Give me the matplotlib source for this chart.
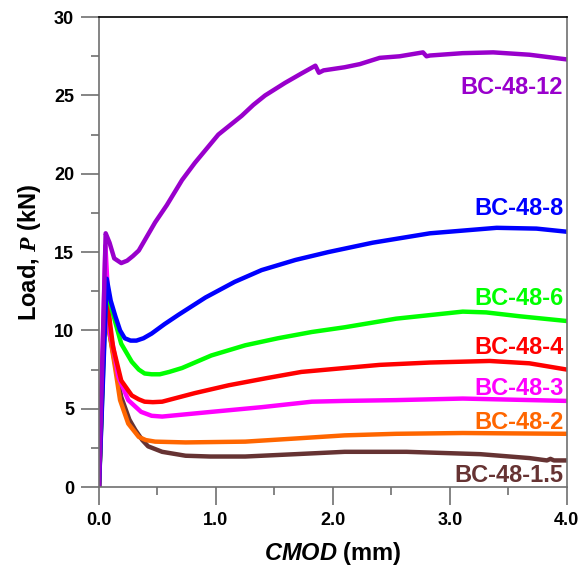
import matplotlib
matplotlib.use("Agg")
import matplotlib.pyplot as plt
from matplotlib.ticker import MultipleLocator, FormatStrFormatter

plt.rcParams["font.family"] = ["Liberation Sans", "DejaVu Sans"]
plt.rcParams["font.weight"] = "bold"
plt.rcParams["mathtext.fontset"] = "custom"
plt.rcParams["mathtext.it"] = "Liberation Sans:italic:bold"
plt.rcParams["mathtext.rm"] = "Liberation Sans:bold"
plt.rcParams["mathtext.cal"] = "Liberation Serif:italic"

# CMOD (mm) / Load (kN)
x_12 = [0.0, 0.057, 0.09, 0.13, 0.19, 0.24, 0.29, 0.34, 0.41, 0.48, 0.58, 0.71, 0.82, 0.92, 1.02,
        1.12, 1.22, 1.32, 1.42, 1.59, 1.73, 1.85, 1.88, 1.92, 2.10, 2.23, 2.40, 2.57, 2.77,
        2.80, 2.83, 3.11, 3.37, 3.68, 4.0]
p_12 = [0.0, 16.2, 15.6, 14.6, 14.3, 14.45, 14.75, 15.1, 16.0, 16.9, 18.0, 19.6, 20.7, 21.6, 22.5,
        23.1, 23.7, 24.4, 25.0, 25.8, 26.4, 26.9, 26.45, 26.6, 26.8, 27.0, 27.4, 27.5, 27.75,
        27.5, 27.55, 27.7, 27.75, 27.6, 27.3]

x_8 = [0.0, 0.066, 0.10, 0.14, 0.18, 0.22, 0.27, 0.32, 0.38, 0.45, 0.56, 0.68, 0.91, 1.16, 1.39,
       1.68, 1.96, 2.34, 2.83, 3.40, 3.74, 4.0]
p_8 = [0.0, 13.3, 11.9, 10.9, 10.0, 9.5, 9.35, 9.35, 9.5, 9.8, 10.4, 11.0, 12.1, 13.1, 13.85,
       14.5, 15.0, 15.6, 16.2, 16.55, 16.5, 16.3]

x_6 = [0.0, 0.06, 0.10, 0.14, 0.19, 0.28, 0.34, 0.39, 0.45, 0.52, 0.60, 0.71, 0.96, 1.25, 1.53,
       1.82, 2.10, 2.54, 3.11, 3.31, 3.60, 4.0]
p_6 = [0.0, 12.8, 11.6, 10.5, 9.15, 8.0, 7.5, 7.25, 7.2, 7.2, 7.35, 7.6, 8.4, 9.05, 9.5,
       9.9, 10.2, 10.75, 11.2, 11.15, 10.9, 10.6]

x_4 = [0.0, 0.05, 0.07, 0.12, 0.19, 0.28, 0.34, 0.39, 0.46, 0.54, 0.82, 1.11, 1.43, 1.73, 2.10,
       2.40, 2.83, 3.34, 3.68, 4.0]
p_4 = [0.0, 12.3, 11.9, 8.95, 6.8, 5.85, 5.6, 5.45, 5.42, 5.45, 6.0, 6.5, 6.95, 7.35, 7.6,
       7.8, 7.95, 8.05, 7.9, 7.5]

x_3 = [0.0, 0.055, 0.094, 0.12, 0.165, 0.25, 0.36, 0.45, 0.54, 0.96, 1.39, 1.82, 2.10, 2.54, 3.11, 4.0]
p_3 = [0.0, 15.4, 9.8, 9.0, 7.05, 5.55, 4.8, 4.55, 4.5, 4.8, 5.1, 5.45, 5.5, 5.55, 5.65, 5.5]

x_2 = [0.0, 0.05, 0.09, 0.14, 0.18, 0.25, 0.34, 0.40, 0.48, 0.74, 1.25, 1.68, 2.10, 2.54, 3.11, 4.0]
p_2 = [0.0, 11.8, 9.8, 7.5, 5.55, 4.05, 3.2, 3.0, 2.9, 2.85, 2.9, 3.1, 3.3, 3.4, 3.45, 3.4]

x_15 = [0.0, 0.05, 0.10, 0.19, 0.26, 0.31, 0.37, 0.42, 0.54, 0.74, 0.95, 1.25, 1.68, 2.10,
        2.63, 3.26, 3.68, 3.83, 3.86, 3.89, 4.0]
p_15 = [0.0, 11.6, 9.4, 5.75, 4.3, 3.65, 3.0, 2.6, 2.25, 2.0, 1.95, 1.95, 2.1, 2.25,
        2.25, 2.1, 1.85, 1.7, 1.8, 1.7, 1.7]

names = ["BC-48-1.5", "BC-48-2", "BC-48-3", "BC-48-4", "BC-48-6", "BC-48-8", "BC-48-12"]
label_y = [0.75, 4.1, 6.3, 8.9, 12.05, 17.8, 25.5]
colors = ["#663333", "#FF6600", "#FF00FF", "#FF0000", "#00FF00", "#0000FF", "#9900CC"]
xs = [x_15, x_2, x_3, x_4, x_6, x_8, x_12]
ps = [p_15, p_2, p_3, p_4, p_6, p_8, p_12]

fig = plt.figure(figsize=(5.79, 5.71), dpi=100)
ax = fig.add_axes([0.171, 0.147, 0.808, 0.823])

for x, p, c in zip(xs, ps, colors):
    ax.plot(x, p, color=c, lw=3.2, solid_joinstyle="round", solid_capstyle="round")

for name, ly, c in zip(names, label_y, colors):
    ax.text(3.97, ly, name, color=c, fontsize=17, fontweight="bold", ha="right", va="center")

ax.set_xlim(0, 4.0)
ax.set_ylim(0, 30)
ax.xaxis.set_major_locator(MultipleLocator(1.0))
ax.xaxis.set_minor_locator(MultipleLocator(0.5))
ax.xaxis.set_major_formatter(FormatStrFormatter("%.1f"))
ax.yaxis.set_major_locator(MultipleLocator(5))
ax.yaxis.set_minor_locator(MultipleLocator(2.5))

grey = "#707070"
for s in ["left", "right", "bottom"]:
    ax.spines[s].set_color(grey)
    ax.spines[s].set_linewidth(1.2)
ax.spines["top"].set_color("black")
ax.spines["top"].set_linewidth(1.2)

ax.tick_params(which="major", direction="out", length=13, width=1.2, color=grey,
               labelsize=13, pad=5)
ax.tick_params(which="minor", direction="out", length=6, width=1.2, color=grey)
ax.tick_params(axis="x", which="major", pad=5)
for t in ax.get_xticklabels() + ax.get_yticklabels():
    t.set_fontweight("bold")

ax.set_xlabel(r"$\mathit{CMOD}$ (mm)", fontsize=17, fontweight="bold", labelpad=8)
ax.set_ylabel(r"Load, $\mathcal{P}$ (kN)", fontsize=17, fontweight="bold", labelpad=8)

fig.savefig("out.png", dpi=100)
